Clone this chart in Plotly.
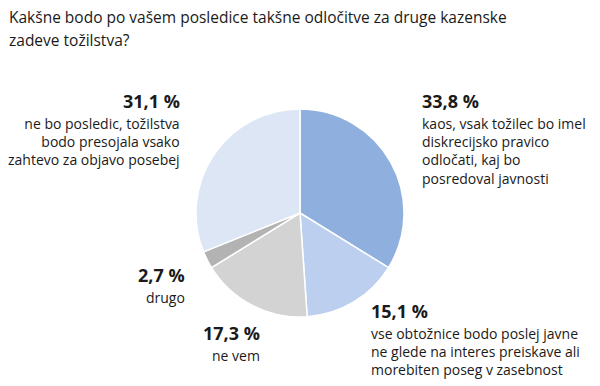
import plotly.graph_objects as go

title_lines = ["Kakšne bodo po vašem posledice takšne odločitve za druge kazenske",
               "zadeve tožilstva?"]
labels = [
    "kaos, vsak tožilec bo imel<br>diskrecijsko pravico<br>odločati, kaj bo<br>posredoval javnosti",
    "vse obtožnice bodo poslej javne<br>ne glede na interes preiskave ali<br>morebiten poseg v zasebnost",
    "ne vem",
    "drugo",
    "ne bo posledic, tožilstva<br>bodo presojala vsako<br>zahtevo za objavo posebej",
]
values = [33.8, 15.1, 17.3, 2.7, 31.1]
value_text = ["33,8 %", "15,1 %", "17,3 %", "2,7 %", "31,1 %"]
colors = ["#8fb0df", "#bccfee", "#d3d3d3", "#b3b3b3", "#dce6f5"]

W, H = 600, 386
FONT = "Open Sans"

fig = go.Figure(go.Pie(
    values=values,
    labels=[l.replace("<br>", " ") for l in labels],
    sort=False,
    direction="clockwise",
    rotation=0,
    marker=dict(colors=colors, line=dict(color="white", width=1.5)),
    textinfo="none",
    hoverinfo="label+value",
    showlegend=False,
    domain=dict(x=[196 / W, 404 / W], y=[1 - 317 / H, 1 - 109 / H]),
))

# label placement: (x px, y px of number, anchor)
pos = [
    (420, 101, "left"),
    (369, 311, "left"),
    (262, 333, "right"),
    (187, 275, "right"),
    (182, 101, "right"),
]

ann = []
for (x, y, anc), num, txt in zip(pos, value_text, labels):
    ann.append(dict(
        x=x / W, y=1 - y / H, xref="paper", yref="paper",
        xanchor=anc, yanchor="middle", showarrow=False,
        text="<b>" + num + "</b>", align=anc,
        font=dict(family=FONT, size=18, color="#1a1a1a"),
    ))
    ann.append(dict(
        x=x / W, y=1 - (y + 11) / H, xref="paper", yref="paper",
        xanchor=anc, yanchor="top", showarrow=False,
        text=txt, align=anc,
        font=dict(family=FONT, size=14, color="#1a1a1a"),
    ))

for i, line in enumerate(title_lines):
    ann.append(dict(
        x=7 / W, y=1 - (17 + 23 * i) / H, xref="paper", yref="paper",
        xanchor="left", yanchor="middle", showarrow=False, align="left",
        text=line, font=dict(family=FONT, size=15.5, color="#1a1a1a"),
    ))

fig.update_layout(
    width=W, height=H,
    margin=dict(l=0, r=0, t=0, b=0),
    paper_bgcolor="white", plot_bgcolor="white",
    annotations=ann,
)

fig.write_html("out.html", config={"displayModeBar": False},
               post_script="document.body.style.margin='0';")
